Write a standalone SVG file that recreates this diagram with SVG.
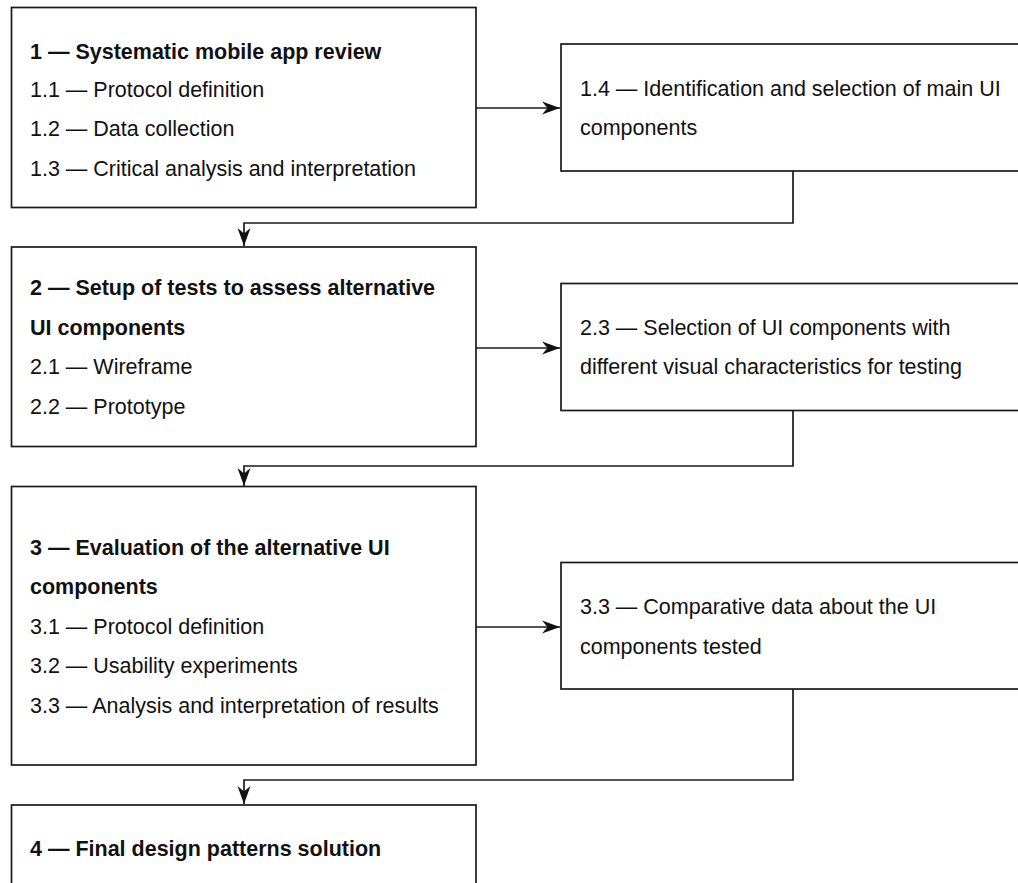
<svg xmlns="http://www.w3.org/2000/svg" width="1018" height="883" viewBox="0 0 1018 883">
<style>
.box{fill:#fff;stroke:#1a1a1a;stroke-width:1.7}
.t{font-family:"Liberation Sans",Arial,Helvetica,sans-serif;font-size:21.5px;fill:#111}
.b{font-weight:bold}
.c{fill:none;stroke:#1a1a1a;stroke-width:1.7}
</style>
<defs>
<marker id="arr" markerUnits="userSpaceOnUse" markerWidth="20" markerHeight="16" refX="18" refY="7" orient="auto">
<path d="M0,0.5 L18,7 L0,13.5 L5.5,7 Z" fill="#111"/>
</marker>
</defs>
<rect width="1018" height="883" fill="#fff"/>
<g id="connectors">
<line class="c" x1="476" y1="108" x2="560" y2="108" marker-end="url(#arr)"/>
<polyline class="c" points="793,171 793,223 244,223 244,246" marker-end="url(#arr)"/>
<line class="c" x1="476" y1="348" x2="560" y2="348" marker-end="url(#arr)"/>
<polyline class="c" points="793,410 793,466 244,466 244,486" marker-end="url(#arr)"/>
<line class="c" x1="476" y1="627" x2="560" y2="627" marker-end="url(#arr)"/>
<polyline class="c" points="793,689 793,780 244,780 244,804" marker-end="url(#arr)"/>
</g>
<g id="node1">
<rect class="box" x="11.5" y="7.5" width="464.5" height="200"/>
<text class="t b" x="30" y="58.5">1 — Systematic mobile app review</text>
<text class="t" x="30" y="97">1.1 — Protocol definition</text>
<text class="t" x="30" y="136">1.2 — Data collection</text>
<text class="t" x="30" y="175.5">1.3 — Critical analysis and interpretation</text>
</g>
<g id="node1_4">
<rect class="box" x="561" y="44" width="470" height="127"/>
<text class="t" x="580" y="95.5">1.4 — Identification and selection of main UI</text>
<text class="t" x="580" y="134.5">components</text>
</g>
<g id="node2">
<rect class="box" x="11.5" y="247" width="464.5" height="199.5"/>
<text class="t b" x="30" y="295">2 — Setup of tests to assess alternative</text>
<text class="t b" x="30" y="334.5">UI components</text>
<text class="t" x="30" y="374">2.1 — Wireframe</text>
<text class="t" x="30" y="413.5">2.2 — Prototype</text>
</g>
<g id="node2_3">
<rect class="box" x="561" y="283.5" width="470" height="127"/>
<text class="t" x="580" y="334.5">2.3 — Selection of UI components with</text>
<text class="t" x="580" y="374">different visual characteristics for testing</text>
</g>
<g id="node3">
<rect class="box" x="11.5" y="486.5" width="464.5" height="278.5"/>
<text class="t b" x="30" y="554.5">3 — Evaluation of the alternative UI</text>
<text class="t b" x="30" y="594">components</text>
<text class="t" x="30" y="633.5">3.1 — Protocol definition</text>
<text class="t" x="30" y="673">3.2 — Usability experiments</text>
<text class="t" x="30" y="712.5">3.3 — Analysis and interpretation of results</text>
</g>
<g id="node3_3">
<rect class="box" x="561" y="562.5" width="470" height="126.5"/>
<text class="t" x="580" y="613.5">3.3 — Comparative data about the UI</text>
<text class="t" x="580" y="653.5">components tested</text>
</g>
<g id="node4">
<rect class="box" x="11.5" y="805" width="464.5" height="100"/>
<text class="t b" x="30" y="855.5">4 — Final design patterns solution</text>
</g>
</svg>
